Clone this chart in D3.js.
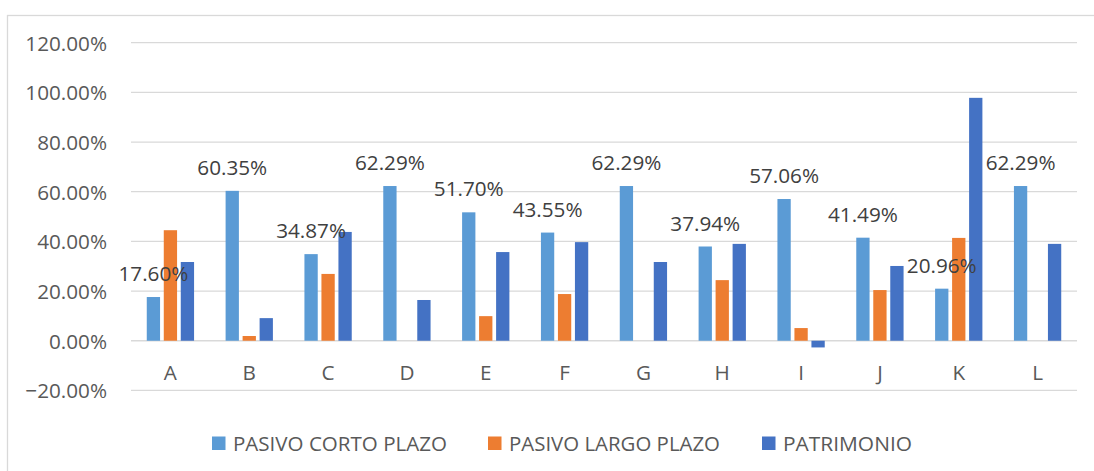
<!DOCTYPE html>
<html>
<head>
<meta charset="utf-8">
<script src="https://cdn.jsdelivr.net/npm/d3@7"></script>
<style>
  html, body { margin: 0; padding: 0; background: #fff; }
  svg { display: block; }
  text { font-family: "Open Sans", "Liberation Sans", sans-serif; }
</style>
</head>
<body>
<svg id="chart" width="1094" height="471"></svg>
<script>
// Categories and series values (percent)
const categories = ["A", "B", "C", "D", "E", "F", "G", "H", "I", "J", "K", "L"];
const seriesNames = ["PASIVO CORTO PLAZO", "PASIVO LARGO PLAZO", "PATRIMONIO"];
const pasivoCorto = [17.60, 60.35, 34.87, 62.29, 51.70, 43.55, 62.29, 37.94, 57.06, 41.49, 20.96, 62.29];
const pasivoLargo = [44.5, 1.9, 26.9, 0, 9.9, 18.8, 0, 24.4, 5.1, 20.4, 41.4, 0];
const patrimonio = [31.7, 9.1, 43.8, 16.4, 35.7, 39.7, 31.7, 39.0, -2.7, 30.1, 97.8, 39.0];
const yTicks = [-20, 0, 20, 40, 60, 80, 100, 120];
const colors = ["#5B9BD5", "#ED7D31", "#4472C4"];

const seriesValues = [pasivoCorto, pasivoLargo, patrimonio];

const svg = d3.select("#chart");
const fontSize = 20.7;

// Chart frame
svg.append("rect")
  .attr("x", 7.5).attr("y", 15.5)
  .attr("width", 1120).attr("height", 480)
  .attr("fill", "none").attr("stroke", "#d9d9d9").attr("stroke-width", 1.3);

const plot = { left: 131, right: 1077 };

const x0 = d3.scaleBand().domain(categories).range([plot.left, plot.right]).padding(0);
const x1 = d3.scaleBand().domain(seriesNames).range([-23.65, 23.65]).paddingInner(0.218).paddingOuter(0);
const y = d3.scaleLinear().domain([-20, 120]).range([390.4, 42.7]);

// Horizontal gridlines
svg.append("g").selectAll("line")
  .data(yTicks)
  .join("line")
  .attr("x1", plot.left).attr("x2", plot.right)
  .attr("y1", d => y(d)).attr("y2", d => y(d))
  .attr("stroke", "#d9d9d9").attr("stroke-width", 1.3);

// Y axis labels
svg.append("g").selectAll("text")
  .data(yTicks)
  .join("text")
  .attr("x", 107).attr("y", d => y(d) + 7.8)
  .attr("text-anchor", "end")
  .attr("font-size", fontSize)
  .attr("fill", "#595959")
  .text(d => d3.format(".2f")(d) + "%");

// Bars
const rows = categories.map((c, i) => ({ cat: c, vals: seriesNames.map((s, k) => ({ s, k, v: seriesValues[k][i] })) }));

const groups = svg.append("g").selectAll("g")
  .data(rows)
  .join("g")
  .attr("transform", d => `translate(${x0(d.cat) + x0.bandwidth() / 2},0)`);

groups.selectAll("rect")
  .data(d => d.vals)
  .join("rect")
  .attr("x", d => x1(d.s))
  .attr("width", x1.bandwidth())
  .attr("y", d => y(Math.max(0, d.v)))
  .attr("height", d => Math.abs(y(d.v) - y(0)))
  .attr("fill", d => colors[d.k]);

// Data labels on the first series
groups.append("text")
  .attr("x", x1(seriesNames[0]) + x1.bandwidth() / 2)
  .attr("y", d => y(d.vals[0].v) - 16)
  .attr("text-anchor", "middle")
  .attr("font-size", fontSize)
  .attr("fill", "#404040")
  .text(d => d3.format(".2f")(d.vals[0].v) + "%");

// Category labels
svg.append("g").selectAll("text")
  .data(categories)
  .join("text")
  .attr("x", d => x0(d) + x0.bandwidth() / 2)
  .attr("y", y(0) + 39.5)
  .attr("text-anchor", "middle")
  .attr("font-size", fontSize)
  .attr("fill", "#595959")
  .text(d => d);

// Legend
const legendX = [212, 488, 762];
const legendW = [214, 211, 129];
const legend = svg.append("g").selectAll("g")
  .data(seriesNames)
  .join("g")
  .attr("transform", (d, i) => `translate(${legendX[i]},0)`);

legend.append("rect")
  .attr("x", 0).attr("y", 436.5)
  .attr("width", 13.5).attr("height", 13.5)
  .attr("fill", (d, i) => colors[i]);

legend.append("text")
  .attr("x", 21).attr("y", 451)
  .attr("font-size", fontSize)
  .attr("fill", "#595959")
  .attr("textLength", (d, i) => legendW[i])
  .attr("lengthAdjust", "spacingAndGlyphs")
  .text(d => d);
</script>
</body>
</html>
